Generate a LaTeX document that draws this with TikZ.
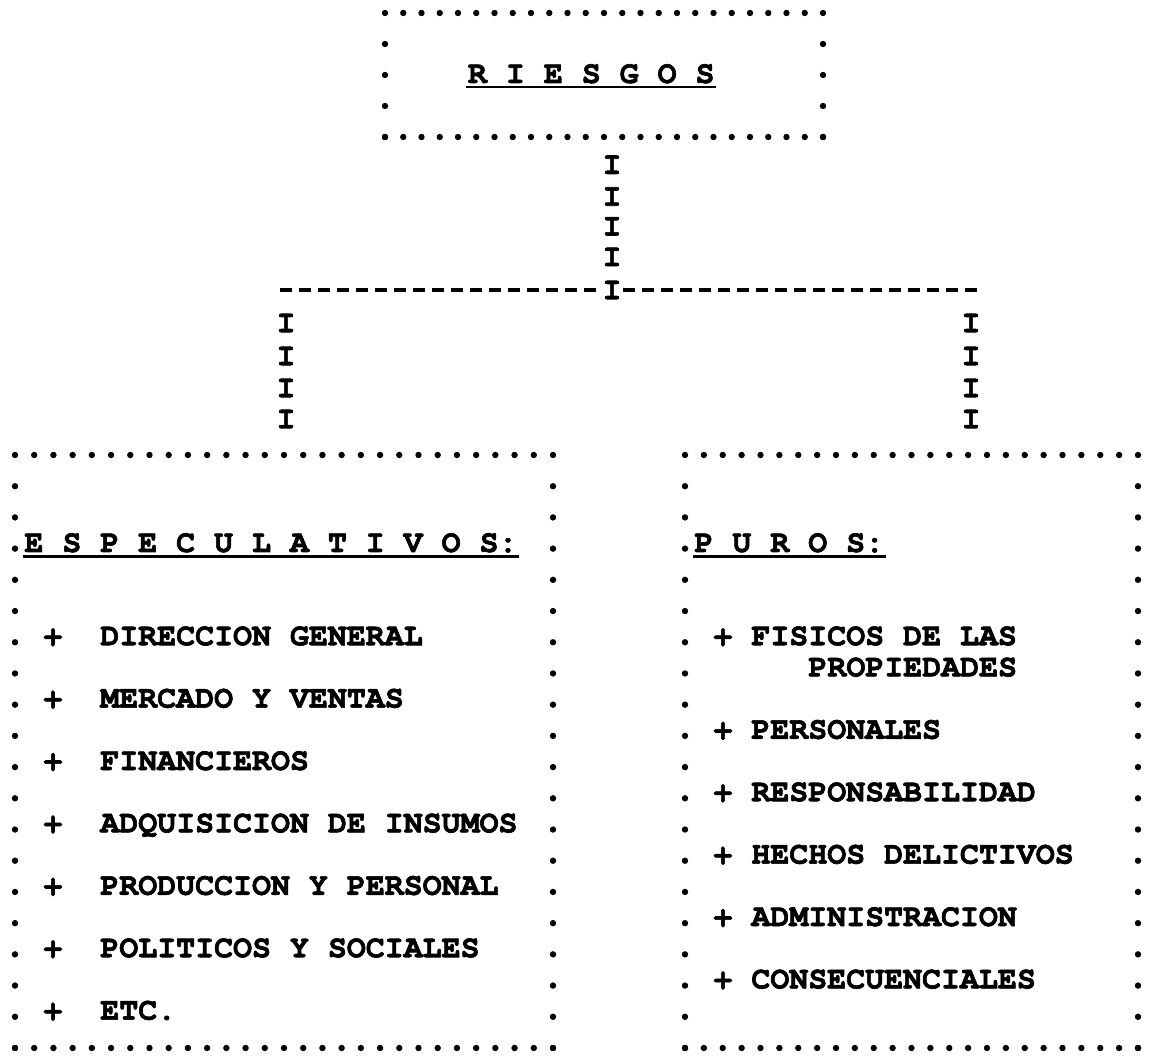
\documentclass[tikz,border=0pt]{standalone}
\usepackage{fontspec}
\newfontfamily\tw{TeX Gyre Cursor}[FakeBold=2]
\usetikzlibrary{calc}
\frenchspacing
\tikzset{
  boxarea/.style={draw=none, inner sep=0pt, outer sep=0pt},
  tt/.style={inner sep=0pt, outer sep=0pt, anchor=base west,
    font=\tw\bfseries\fontsize{15.8}{18}\selectfont},
  ichar/.style={inner sep=0pt, outer sep=0pt, anchor=center,
    font=\tw\bfseries\fontsize{15.8}{18}\selectfont},
  hyph/.style={line width=1.6pt, dash pattern=on 6pt off 3.5pt},
  uline/.style={line width=1.4pt},
}
\newcommand\dotframe[3]{%
  \foreach \i in {0,...,#2}{%
    \fill ($(#1.north west)!{\i/#2}!(#1.north east)$) circle[radius=3.2];
    \fill ($(#1.south west)!{\i/#2}!(#1.south east)$) circle[radius=3.2];}
  \foreach \j in {1,...,#3}{%
    \fill ($(#1.north west)!{\j/#3}!(#1.south west)$) circle[radius=3.2];
    \fill ($(#1.north east)!{\j/#3}!(#1.south east)$) circle[radius=3.2];}
}
\begin{document}
\begin{tikzpicture}[x=0.5pt,y=-0.5pt]
\fill[white] (0,0) rectangle (1152,1058);
\useasboundingbox (0,0) rectangle (1152,1058);

% boxes
\node[boxarea, minimum width=219pt, minimum height=62pt] (top) at (604,75) {};
\node[boxarea, minimum width=269pt, minimum height=296.5pt] (lb) at (284,751.5) {};
\node[boxarea, minimum width=226.5pt, minimum height=296.5pt] (rb) at (911.5,751.5) {};
\dotframe{top}{24}{4}
\dotframe{lb}{28}{19}
\dotframe{rb}{24}{19}

% titles
\node[tt] (t0) at (468,83) {R I E S G O S};
\draw[uline] ([shift={(-1pt,-2pt)}]t0.base west) -- ([shift={(1pt,-2pt)}]t0.base east);
\node[tt] (t1) at (24.5,552) {E S P E C U L A T I V O S:};
\draw[uline] ([shift={(-1pt,-2.2pt)}]t1.base west) -- ([shift={(1pt,-2.2pt)}]t1.base east);
\node[tt] (t2) at (694.5,552) {P U R O S:};
\draw[uline] ([shift={(-1pt,-2.2pt)}]t2.base west) -- ([shift={(1pt,-2.2pt)}]t2.base east);

% left items
\node[tt] (l1) at (43.5,645.2) {+\ \ DIRECCION GENERAL};
\node[tt] (l2) at (43.5,707.6) {+\ \ MERCADO Y VENTAS};
\node[tt] (l3) at (43.5,770) {+\ \ FINANCIEROS};
\node[tt] (l4) at (43.5,832.4) {+\ \ ADQUISICION DE INSUMOS};
\node[tt] (l5) at (43.5,894.8) {+\ \ PRODUCCION Y PERSONAL};
\node[tt] (l6) at (43.5,957.2) {+\ \ POLITICOS Y SOCIALES};
\node[tt] (l7) at (43.5,1019.6) {+\ \ ETC.};

% right items
\node[tt] (r1) at (713.5,645.2) {+ FISICOS DE LAS};
\node[tt] (r2) at (808.5,676.4) {PROPIEDADES};
\node[tt] (r3) at (713.5,738.8) {+ PERSONALES};
\node[tt] (r4) at (713.5,801.2) {+ RESPONSABILIDAD};
\node[tt] (r5) at (713.5,863.6) {+ HECHOS DELICTIVOS};
\node[tt] (r6) at (713.5,926) {+ ADMINISTRACION};
\node[tt] (r7) at (713.5,988.4) {+ CONSECUENCIALES};

% connectors
\node[ichar] (j) at (612,290) {I};
\coordinate (hl) at (280,290);
\coordinate (hr) at (977,290);
\coordinate (il) at (286,290);
\coordinate (ir) at (971,290);
\draw[hyph] (hl) -- (j.west);
\draw[hyph] (hr) -- (j.east);
\path (j |- top.south) -- (j.north)
  node[ichar,pos=0.193] (v1) {I}
  node[ichar,pos=0.414] (v2) {I}
  node[ichar,pos=0.621] (v3) {I}
  node[ichar,pos=0.834] (v4) {I};
\path (il) -- (il |- lb.north)
  node[ichar,pos=0.2] (a1) {I}
  node[ichar,pos=0.4] (a2) {I}
  node[ichar,pos=0.594] (a3) {I}
  node[ichar,pos=0.782] (a4) {I};
\path (ir) -- (ir |- rb.north)
  node[ichar,pos=0.2] (b1) {I}
  node[ichar,pos=0.4] (b2) {I}
  node[ichar,pos=0.594] (b3) {I}
  node[ichar,pos=0.782] (b4) {I};
\end{tikzpicture}
\end{document}
